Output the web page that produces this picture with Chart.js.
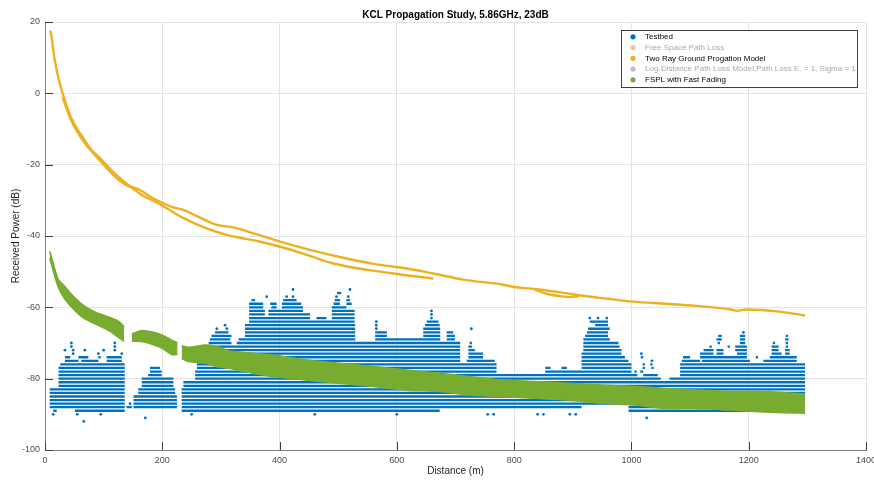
<!DOCTYPE html>
<html>
<head>
<meta charset="utf-8">
<title>KCL Propagation Study</title>
<script src="https://cdn.jsdelivr.net/npm/chart.js@4.4.1/dist/chart.umd.min.js"></script>
<style>
  html, body { margin: 0; padding: 0; background: #ffffff; }
  #wrap { width: 874px; height: 481px; position: relative; }
</style>
</head>
<body>
<div id="wrap"><canvas id="chart"></canvas></div>
<script>
// ---- Series names and colours (legend order) ----
const seriesNames = [
  'Testbed',
  'Free Space Path Loss',
  'Two Ray Ground Progation Model',
  'Log-Distance Path Loss Model,Path Loss E. = 1, Sigma = 1',
  'FSPL with Fast Fading'
];
const seriesVisible = [true, false, true, false, true];
const seriesColors = ['#0072BD', '#D95319', '#EDB120', '#7E2F8E', '#77AC30'];
const legendMarkerColors = ['#0072BD', '#F5BFA6', '#EDB120', '#CDB5D5', '#77AC30'];

// ---- Testbed: received power is logged in whole dB, so each level forms a row ----
// Each row lists distance spans [from, to, from, to, ...] in metres where readings exist.
const testbedLevels = [-58, -59, -60, -61, -62, -63, -64, -65, -66, -67, -68, -69, -70,
  -71, -72, -73, -74, -75, -76, -77, -78, -79, -80, -81, -82, -83, -84, -85, -86, -87, -88, -89];
const testbedRuns = [
  /* -58 */ [352, 358, 406, 429, 494, 503, 514, 520],
  /* -59 */ [348, 372, 384, 395, 404, 437, 492, 503, 514, 523],
  /* -60 */ [348, 372, 386, 395, 404, 440, 489, 514],
  /* -61 */ [348, 375, 381, 440, 489, 528],
  /* -62 */ [348, 375, 381, 452, 489, 528],
  /* -63 */ [348, 452, 463, 480, 489, 528],
  /* -64 */ [348, 528, 651, 671, 929, 960],
  /* -65 */ [341, 529, 648, 673, 938, 960],
  /* -66 */ [341, 529, 645, 674, 926, 963],
  /* -67 */ [290, 313, 341, 529, 563, 583, 645, 674, 685, 696, 924, 960],
  /* -68 */ [284, 318, 341, 529, 563, 583, 645, 674, 685, 699, 921, 960, 1148, 1154, 1185, 1194, 1263, 1267],
  /* -69 */ [281, 316, 330, 529, 563, 674, 685, 699, 918, 963, 1145, 1154, 1185, 1194, 1262, 1268],
  /* -70 */ [279, 318, 327, 708, 724, 728, 918, 978, 1147, 1151, 1185, 1194, 1241, 1245, 1263, 1267],
  /* -71 */ [267, 708, 722, 728, 918, 980, 1133, 1137, 1164, 1168, 1177, 1197, 1239, 1251, 1263, 1267],
  /* -72 */ [262, 708, 722, 733, 918, 983, 1123, 1140, 1145, 1157, 1177, 1197, 1239, 1251, 1262, 1270],
  /* -73 */ [262, 708, 722, 747, 915, 983, 1117, 1140, 1145, 1157, 1180, 1197, 1239, 1256, 1262, 1270],
  /* -74 */ [34, 43, 57, 74, 91, 95, 105, 131, 262, 708, 722, 747, 915, 989, 1016, 1020, 1088, 1100,
             1117, 1197, 1212, 1216, 1236, 1282],
  /* -75 */ [34, 57, 62, 91, 105, 131, 259, 708, 719, 767, 915, 995, 1086, 1117, 1120, 1202, 1225, 1282],
  /* -76 */ [26, 136, 259, 770, 915, 1000, 1019, 1023, 1032, 1036, 1083, 1296],
  /* -77 */ [23, 136, 179, 196, 259, 770, 853, 862, 881, 890, 915, 1000, 1019, 1023, 1034, 1038, 1083, 1296],
  /* -78 */ [23, 136, 179, 199, 256, 770, 853, 1000, 1005, 1009, 1015, 1020, 1083, 1296],
  /* -79 */ [23, 136, 176, 199, 256, 1010, 1020, 1045, 1083, 1296],
  /* -80 */ [23, 136, 165, 219, 256, 1050, 1065, 1296],
  /* -81 */ [23, 136, 165, 219, 236, 1296],
  /* -82 */ [23, 136, 165, 219, 236, 1296],
  /* -83 */ [8, 136, 159, 222, 233, 1296],
  /* -84 */ [8, 136, 159, 222, 233, 1296],
  /* -85 */ [8, 136, 151, 225, 233, 1296],
  /* -86 */ [8, 136, 151, 225, 233, 1296],
  /* -87 */ [8, 136, 151, 225, 233, 1296],
  /* -88 */ [8, 136, 139, 148, 151, 225, 233, 915, 995, 1296],
  /* -89 */ [14, 20, 51, 136, 233, 673, 995, 1296]
];
// Isolated testbed readings: distance (m) and power (dB)
const testbedDotD = [45, 45, 119, 119, 34, 48, 68, 100, 119, 48, 91, 131, 14, 55, 95, 66, 171, 145,
  307, 293, 310, 423, 520, 500, 503, 378, 412, 423, 497, 517, 565, 565, 565, 659, 659, 659, 727,
  929, 943, 958, 1191, 1026, 755, 765, 840, 850, 895, 905, 600, 250, 460, 1035, 1017];
const testbedDotV = [-70, -71, -70, -71, -72, -72, -72, -72, -72, -73, -73, -73, -90, -90, -90, -92, -91, -87,
  -65, -66, -66, -55, -55, -56, -56, -57, -57, -57, -57, -57, -64, -65, -66, -61, -62, -63, -66,
  -63, -63, -63, -67, -91, -90, -90, -90, -90, -90, -90, -90, -90, -90, -75, -73];

// ---- Two Ray Ground model: main track and the secondary tracks ----
const twoRayMainD = [9, 11, 15, 20, 26, 31, 38, 45, 55, 65, 80, 94, 110, 128, 145, 162, 185, 216,
  236, 260, 293, 321, 360, 401, 450, 514, 560, 617, 662, 716, 780, 800, 830, 870, 910, 960,
  1003, 1060, 1111, 1170, 1180, 1196, 1253, 1296];
const twoRayMainV = [17.6, 16, 11, 6.5, 2.3, -0.5, -4, -7, -10, -12.5, -16, -18.2, -21, -23.8,
  -26, -27.1, -29.5, -31.8, -32.7, -34.5, -36.9, -37.6, -39.5, -41.6, -43.8, -46.3, -47.8, -49.1,
  -50.5, -52.3, -53.6, -54.3, -54.8, -55.6, -56.6, -57.6, -58.4, -59, -59.6, -60.6, -61, -60.6,
  -61.2, -62.3];
// second track lying just under the main one at short range
const twoRayNearD = [30, 45, 65, 94, 128, 150];
const twoRayNearV = [-1.2, -7.7, -13.3, -18.9, -24.6, -26.7];
const twoRayLowD = [150, 165, 190, 220, 236, 270, 310, 367, 412, 450, 492, 550, 594, 630, 662];
const twoRayLowV = [-26.6, -28.5, -30.5, -33.5, -35, -37.5, -39.7, -41.6, -43.5, -45.5, -47.7,
  -49.5, -50.5, -51.3, -51.9];
const twoRayLoopD = [835, 855, 875, 895, 910];
const twoRayLoopV = [-55, -56.2, -56.8, -57.1, -56.9];

// ---- FSPL with fast fading: spread of the faded samples (upper / lower envelope) ----
const fadingPieces = [
  {
    d:     [8, 12, 17, 23, 33, 43, 55, 66, 88, 110, 126, 135],
    upper: [-44.3, -46.5, -49.5, -52.3, -54, -56, -58, -59.5, -61.5, -62.8, -64, -65.5],
    lower: [-46.2, -48.5, -51.5, -54.5, -57.5, -59.5, -61.5, -63, -64.8, -66.6, -68.5, -69.5]
  },
  {
    d:     [148, 165, 185, 200, 216, 226],
    upper: [-67.5, -66.5, -67, -67.8, -69.2, -70],
    lower: [-69.5, -69.6, -70.5, -71.5, -73.2, -73.2]
  },
  {
    d:     [233, 245, 273, 293, 313, 341, 389, 446, 503, 560, 617, 673, 722, 779, 835, 892, 949,
            1006, 1054, 1111, 1168, 1225, 1296],
    upper: [-70.8, -71.2, -70.6, -71, -72.2, -72.7, -73.4, -74.8, -75.7, -76.6, -77.6, -78.5,
            -79.4, -80.4, -80.8, -81.3, -81.8, -82.2, -82.7, -83.2, -83.6, -83.6, -84.3],
    lower: [-74.3, -75.2, -75.7, -76.6, -77.1, -78, -79.4, -80.4, -81.3, -82.2, -83.2, -83.6,
            -84.6, -85, -85.5, -86, -86.9, -87.4, -88.3, -88.3, -88.8, -89.3, -89.7]
  }
];

// ---- Axis settings ----
const xMin = 0, xMax = 1400, xStep = 200;
const yMin = -100, yMax = 20, yStep = 20;

const FONT = '"Liberation Sans", Arial, Helvetica, sans-serif';

function pairs(ds, vs) {
  return ds.map((d, i) => ({ x: d, y: vs[i] }));
}
function rowsToPoints(levels, runs) {
  const pts = [];
  levels.forEach((v, i) => {
    const r = runs[i];
    for (let k = 0; k < r.length; k += 2) {
      pts.push({ x: r[k], y: v }, { x: r[k + 1], y: v }, { x: r[k + 1], y: null });
    }
  });
  return pts;
}

const datasets = [];
// Testbed rows
datasets.push({
  type: 'line', label: seriesNames[0], data: rowsToPoints(testbedLevels, testbedRuns),
  borderColor: seriesColors[0], borderWidth: 2.3, pointRadius: 0, fill: false,
  tension: 0, spanGaps: false, order: 5
});
datasets.push({
  type: 'scatter', label: seriesNames[0], data: pairs(testbedDotD, testbedDotV),
  backgroundColor: seriesColors[0], borderWidth: 0, pointRadius: 1.4, order: 5
});
// Hidden series (kept for the legend)
datasets.push({ type: 'scatter', label: seriesNames[1], data: [], hidden: true,
  backgroundColor: seriesColors[1] });
datasets.push({ type: 'scatter', label: seriesNames[3], data: [], hidden: true,
  backgroundColor: seriesColors[3] });
// Two Ray tracks
[[twoRayMainD, twoRayMainV], [twoRayNearD, twoRayNearV], [twoRayLowD, twoRayLowV],
 [twoRayLoopD, twoRayLoopV]].forEach(([d, v]) => {
  datasets.push({
    type: 'line', label: seriesNames[2], data: pairs(d, v),
    borderColor: seriesColors[2], borderWidth: 2.4, pointRadius: 0, fill: false,
    cubicInterpolationMode: 'monotone', order: 3
  });
});
// Fast fading band: upper envelope filled down to the lower envelope
fadingPieces.forEach(p => {
  datasets.push({
    type: 'line', label: seriesNames[4], data: pairs(p.d, p.upper),
    borderColor: seriesColors[4], backgroundColor: seriesColors[4], borderWidth: 1.6,
    pointRadius: 0, fill: '+1', tension: 0.2, order: 1
  });
  datasets.push({
    type: 'line', label: seriesNames[4], data: pairs(p.d, p.lower),
    borderColor: seriesColors[4], borderWidth: 1.6, pointRadius: 0, fill: false,
    tension: 0.2, order: 1
  });
});

// Inward tick marks on the left and bottom axes
const inwardTicks = {
  id: 'inwardTicks',
  afterDraw(chart) {
    const { ctx, chartArea: a, scales: { x, y } } = chart;
    ctx.save();
    ctx.strokeStyle = '#404040';
    ctx.lineWidth = 1;
    ctx.beginPath();
    x.ticks.forEach(t => {
      const px = Math.round(x.getPixelForValue(t.value)) + 0.5;
      ctx.moveTo(px, a.bottom);
      ctx.lineTo(px, a.bottom - 8);
    });
    y.ticks.forEach(t => {
      const py = Math.round(y.getPixelForValue(t.value)) + 0.5;
      ctx.moveTo(a.left, py);
      ctx.lineTo(a.left + 8, py);
    });
    ctx.stroke();
    ctx.restore();
  }
};

// Boxed legend in the upper right of the plot
const boxLegend = {
  id: 'boxLegend',
  afterDraw(chart) {
    const ctx = chart.ctx;
    const bx = 621.5, by = 30.5, bw = 236, bh = 57;
    ctx.save();
    ctx.fillStyle = '#ffffff';
    ctx.fillRect(bx, by, bw, bh);
    ctx.strokeStyle = '#404040';
    ctx.lineWidth = 1;
    ctx.strokeRect(bx, by, bw, bh);
    ctx.font = '8px ' + FONT;
    ctx.textBaseline = 'middle';
    ctx.textAlign = 'left';
    seriesNames.forEach((name, i) => {
      const ly = 36.8 + i * 10.75;
      ctx.fillStyle = legendMarkerColors[i];
      ctx.beginPath();
      ctx.arc(633, ly, 2.6, 0, Math.PI * 2);
      ctx.fill();
      ctx.fillStyle = seriesVisible[i] ? '#000000' : '#a8a8a8';
      ctx.fillText(name, 645, ly);
    });
    ctx.restore();
  }
};

new Chart(document.getElementById('chart'), {
  data: { datasets },
  options: {
    responsive: true,
    maintainAspectRatio: false,
    animation: false,
    events: [],
    layout: { padding: { left: 0, right: 8, top: 0, bottom: 0 } },
    plugins: {
      legend: { display: false },
      tooltip: { enabled: false },
      title: {
        display: true,
        text: 'KCL Propagation Study, 5.86GHz, 23dB',
        fullSize: false,
        color: '#000000',
        font: { family: FONT, size: 10, weight: 'bold', lineHeight: 1.2 },
        padding: { top: 9, bottom: 1 }
      }
    },
    scales: {
      x: {
        type: 'linear', min: xMin, max: xMax,
        ticks: { stepSize: xStep, padding: 5, color: '#4d4d4d', font: { family: FONT, size: 9 },
                 maxRotation: 0, autoSkip: false, callback: v => String(v) },
        grid: { color: '#e3e3e3', drawTicks: false },
        border: { display: true, color: '#808080' },
        title: { display: true, text: 'Distance (m)', color: '#262626',
                 font: { family: FONT, size: 10 }, padding: { top: 0, bottom: 4 } },
        afterFit(scale) { scale.height = 31; scale.paddingLeft = 0; scale.paddingRight = 0; }
      },
      y: {
        type: 'linear', min: yMin, max: yMax,
        ticks: { stepSize: yStep, padding: 5, color: '#4d4d4d', font: { family: FONT, size: 9 },
                 callback: v => String(v) },
        grid: { color: '#e3e3e3', drawTicks: false },
        border: { display: true, color: '#808080' },
        title: { display: true, text: 'Received Power (dB)', color: '#262626',
                 font: { family: FONT, size: 10 }, padding: { top: 10, bottom: 0 } },
        afterFit(scale) { scale.width = 45; scale.paddingTop = 0; scale.paddingBottom = 0; }
      }
    }
  },
  plugins: [inwardTicks, boxLegend]
});
</script>
</body>
</html>
